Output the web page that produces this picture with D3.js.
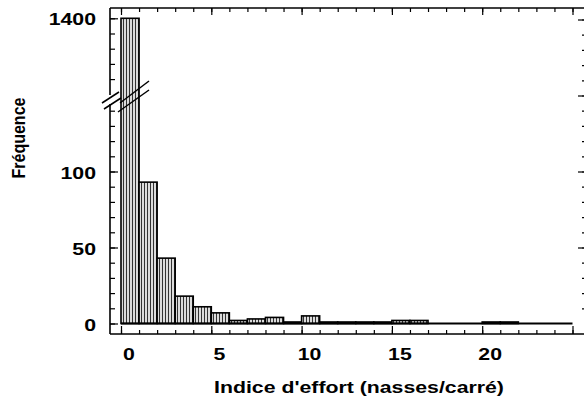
<!DOCTYPE html>
<html><head><meta charset="utf-8">
<script src="https://cdn.jsdelivr.net/npm/d3@7"></script>
<style>
html,body{margin:0;padding:0;background:#fff;}
svg{display:block;font-family:"Liberation Sans",Arial,sans-serif;font-weight:bold;}
</style>
</head><body>
<svg id="c" width="584" height="408"></svg>
<script>
// ---- data ----
const binStart = [0,1,2,3,4,5,6,7,8,9,10,11,12,13,14,15,16,17,18,19,20,21,22,23,24];
const frequency = [1400,93,43,18,11,7,2,3,4,1,5,1,1,1,1,2,2,0,0,0,1,1,0,0,0];
const xTickLabels = [0,5,10,15,20];
const yLowTickLabels = [0,50,100];
const yHighTickLabels = [1400];
const xTitle = "Indice d'effort (nasses/carré)";
const yTitle = "Fréquence";

const svg = d3.select("#c");
const SX = 1.33;
const L = 110, T = 8, B = 334, R = 585;

const x = d3.scaleLinear().domain([0,25]).range([121,572.5]);
const yLow = d3.scaleLinear().domain([0,100]).range([323.5,171.5]);
const yHigh = d3.scaleLinear().domain([1360,1400]).range([79.1,18.3]);
const yVal = v => v > 700 ? yHigh(v) : yLow(v);

// pattern
const defs = svg.append("defs");
const pat = defs.append("pattern").attr("id","hatch").attr("patternUnits","userSpaceOnUse")
  .attr("width",3).attr("height",4);
pat.append("rect").attr("width",3).attr("height",4).attr("fill","#dcdcdc");
pat.append("rect").attr("x",0).attr("width",1).attr("height",4).attr("fill","#333");

// bars
const data = binStart.map((s,i)=>({s, v:frequency[i]})).filter(d=>d.v>0);
svg.append("g").selectAll("rect").data(data).join("rect")
  .attr("x", d=>x(d.s)).attr("width", d=>x(d.s+1)-x(d.s))
  .attr("y", d=>yVal(d.v)).attr("height", d=>yLow(0)-yVal(d.v))
  .attr("fill","url(#hatch)").attr("stroke","#000").attr("stroke-width",1.6);

// baseline
svg.append("line").attr("x1",x(0)).attr("x2",x(25)).attr("y1",yLow(0)).attr("y2",yLow(0))
  .attr("stroke","#000").attr("stroke-width",2);

// frame
const frame = svg.append("g").attr("stroke","#000").attr("stroke-width",1.6).attr("fill","none");
frame.append("line").attr("x1",L).attr("x2",L).attr("y1",T).attr("y2",95);
frame.append("line").attr("x1",L).attr("x2",L).attr("y1",104).attr("y2",B);
frame.append("line").attr("x1",L).attr("x2",R).attr("y1",B).attr("y2",B);
frame.append("line").attr("x1",L).attr("x2",R).attr("y1",T).attr("y2",T);
frame.append("line").attr("x1",R).attr("x2",R).attr("y1",T).attr("y2",B);

function ticks(axis, tr){
  const g = svg.append("g").attr("transform",tr).call(axis);
  g.select(".domain").remove();
  g.selectAll("text").remove();
  g.selectAll("line").attr("stroke","#000").attr("stroke-width",1.2);
  return g;
}
// left ticks (lower and upper segments)
ticks(d3.axisRight(yLow).tickValues(d3.range(0,141,10)).tickSize(5).tickFormat(""), `translate(${L},0)`);
ticks(d3.axisRight(yLow).tickValues(yLowTickLabels).tickSize(8).tickFormat(""), `translate(${L},0)`);
ticks(d3.axisRight(yHigh).tickValues([1360,1370,1380,1390,1400]).tickSize(5).tickFormat(""), `translate(${L},0)`);
ticks(d3.axisRight(yHigh).tickValues(yHighTickLabels).tickSize(8).tickFormat(""), `translate(${L},0)`);
// right ticks
ticks(d3.axisLeft(yLow).tickValues(d3.range(10,201,10)).tickSize(3).tickFormat(""), `translate(${R},0)`);
ticks(d3.axisLeft(yLow).tickValues([50,100,150,200]).tickSize(7).tickFormat(""), `translate(${R},0)`);
// bottom & top ticks
ticks(d3.axisTop(x).tickValues(d3.range(0,26,1)).tickSize(4).tickFormat(""), `translate(0,${B})`);
ticks(d3.axisTop(x).tickValues(d3.range(0,26,5)).tickSize(8).tickFormat(""), `translate(0,${B})`);
ticks(d3.axisBottom(x).tickValues(d3.range(0,26,1)).tickSize(4).tickFormat(""), `translate(0,${T})`);
ticks(d3.axisBottom(x).tickValues(d3.range(0,26,5)).tickSize(7).tickFormat(""), `translate(0,${T})`);

// break marks
const br = svg.append("g").attr("stroke","#000").attr("stroke-width",1.5);
[[102,103,119,92],[104,109,121,98],[120,103,149,81],[118,112,149,90]].forEach(p=>{
  br.append("line").attr("x1",p[0]).attr("y1",p[1]).attr("x2",p[2]).attr("y2",p[3]);
});

// labels
const lab = svg.append("g").attr("fill","#000").attr("font-size",16);
lab.selectAll(".yl").data(yLowTickLabels).join("text")
  .attr("transform", d=>`translate(96,${yLow(d)+7}) scale(${SX},1)`)
  .attr("text-anchor","end").text(d=>d);
lab.selectAll(".yh").data(yHighTickLabels).join("text")
  .attr("class","yh")
  .attr("transform", d=>`translate(96,${yHigh(d)+7}) scale(${SX},1)`)
  .attr("text-anchor","end").text(d=>d);
lab.selectAll(".xl").data(xTickLabels).join("text")
  .attr("class","xl")
  .attr("transform", d=>`translate(${x(d)+8},360) scale(${SX},1)`)
  .attr("text-anchor","middle").text(d=>d);
lab.append("text").attr("transform",`translate(359,393) scale(${SX},1)`)
  .attr("text-anchor","middle").text(xTitle);
lab.append("text").attr("transform",`translate(24.5,138) scale(1.12,1) rotate(-90)`)
  .attr("text-anchor","middle").text(yTitle);
</script>
</body></html>
